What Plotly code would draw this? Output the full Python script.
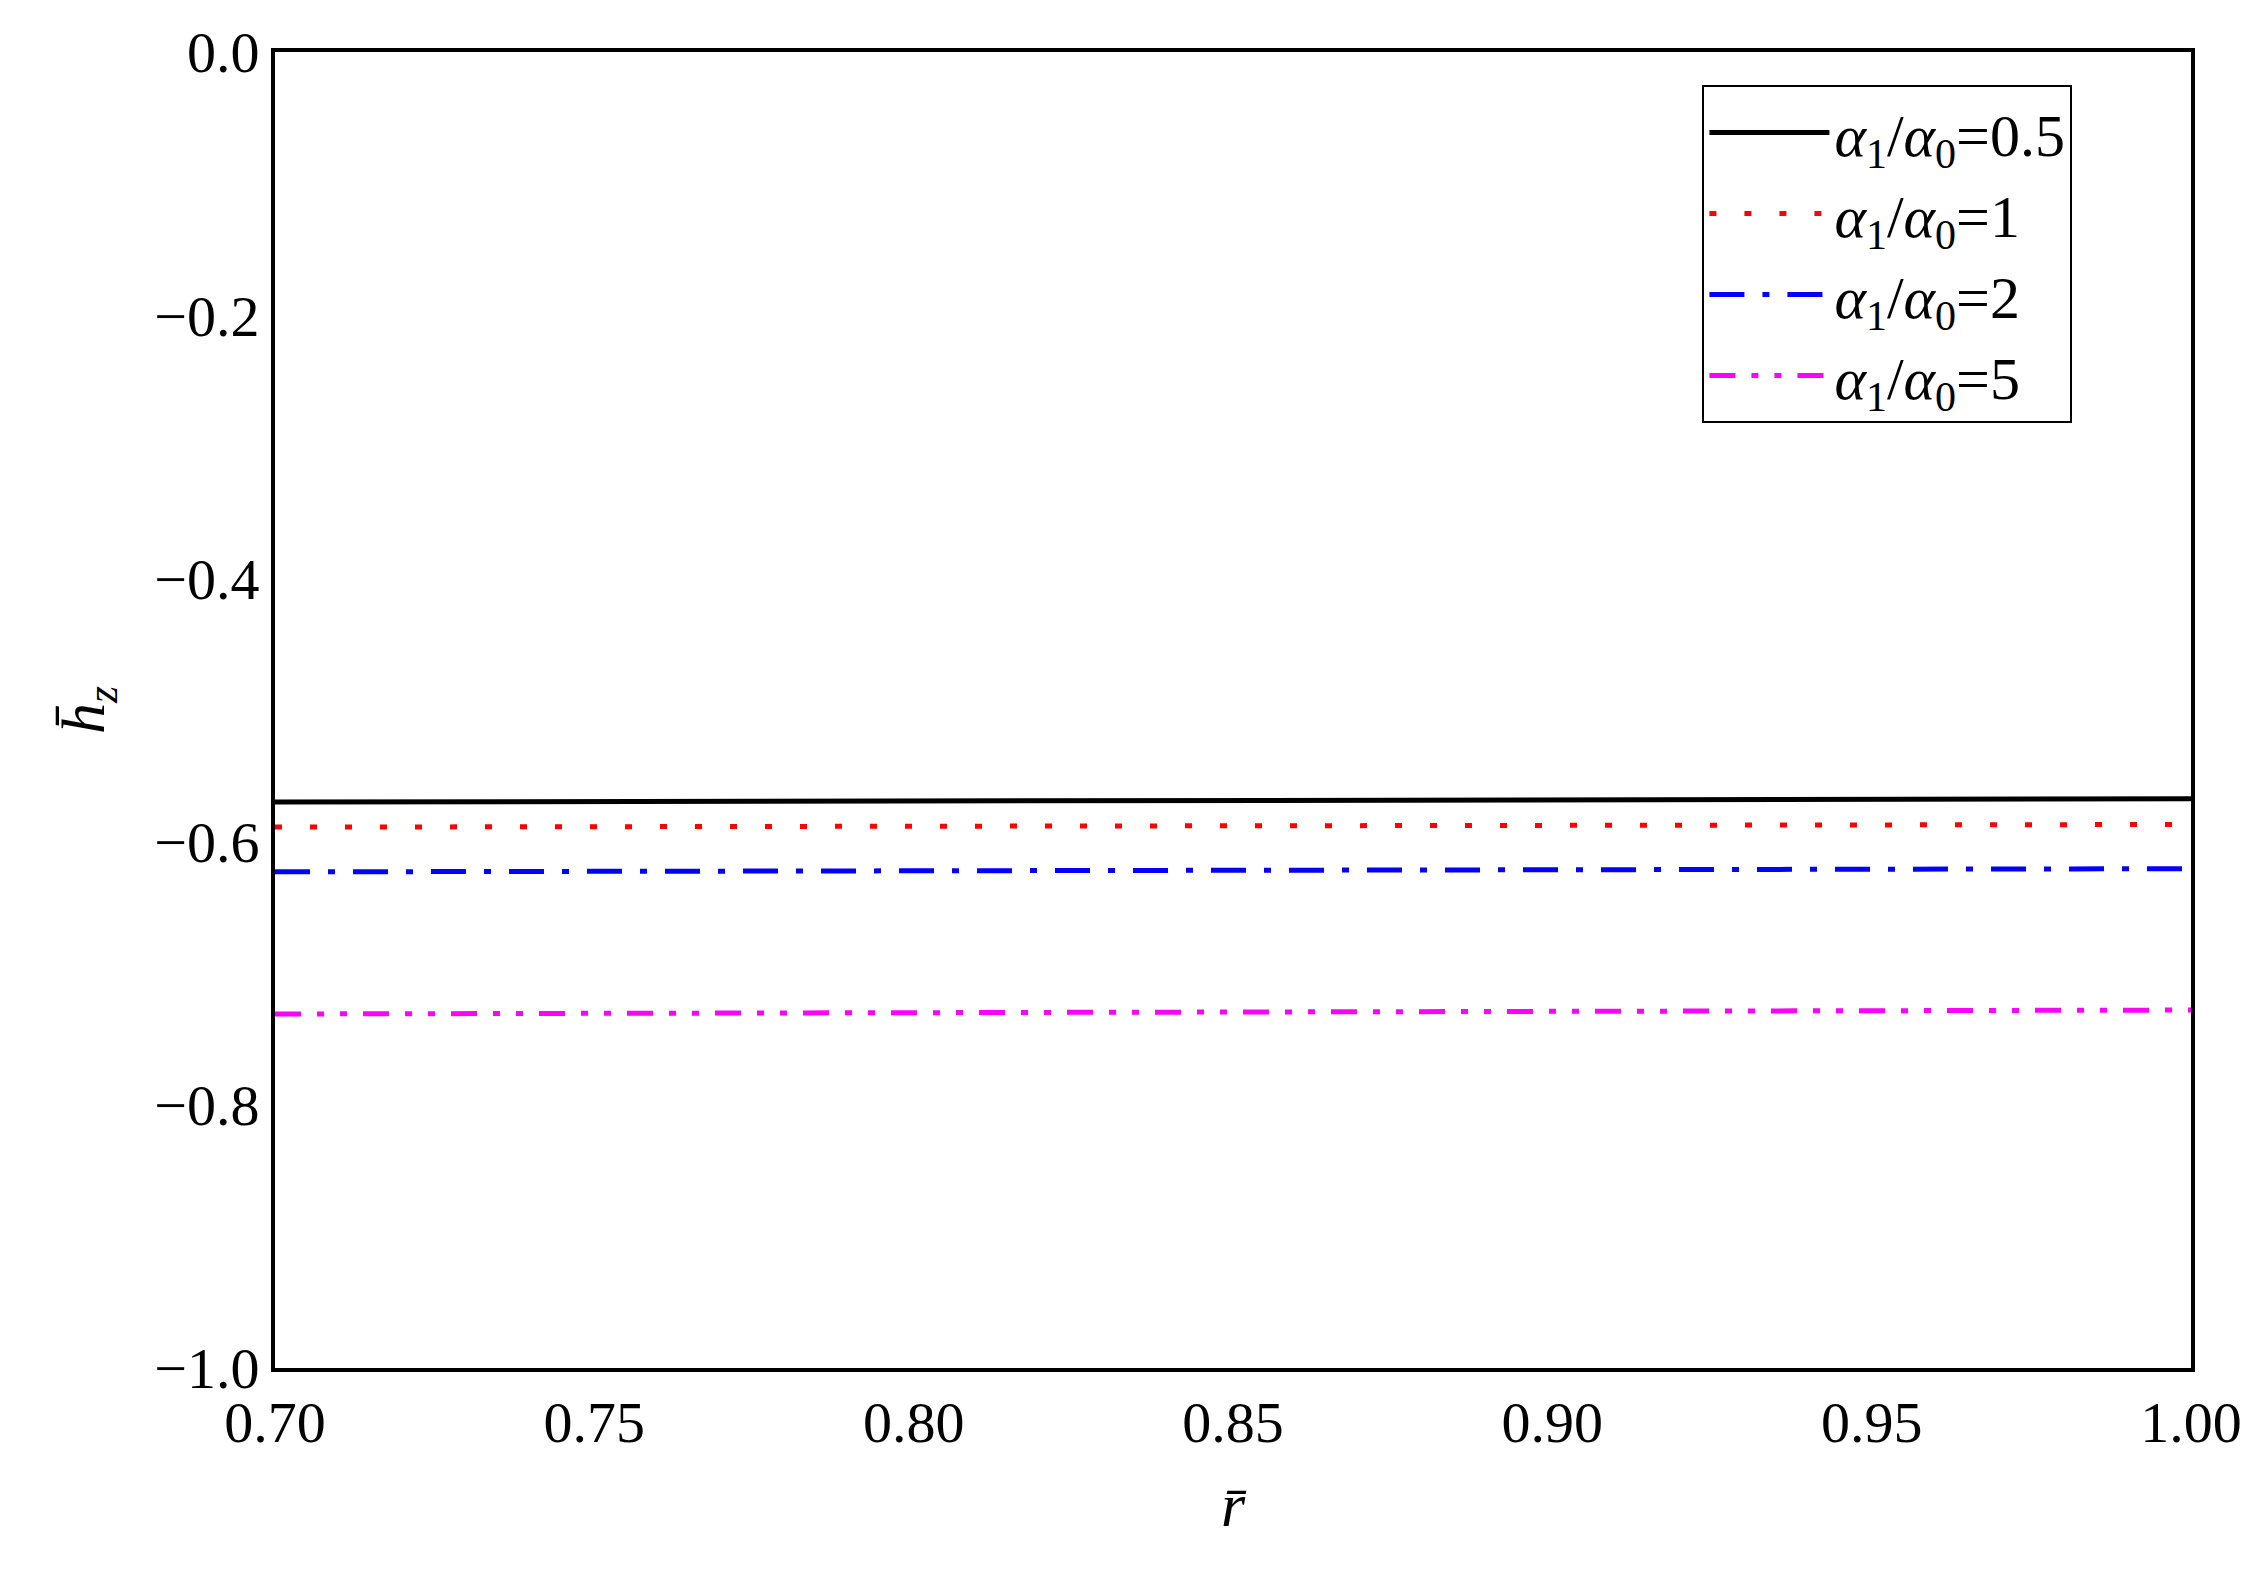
import plotly.graph_objects as go

r_bar = [0.70, 0.75, 0.80, 0.85, 0.90, 0.95, 1.00]
hz_05 = [-0.570, -0.5697, -0.5693, -0.569, -0.5685, -0.568, -0.5675]
hz_1 = [-0.589, -0.5887, -0.5884, -0.588, -0.5877, -0.5874, -0.587]
hz_2 = [-0.623, -0.6226, -0.6222, -0.6218, -0.6214, -0.621, -0.6206]
hz_5 = [-0.731, -0.7305, -0.730, -0.7295, -0.729, -0.7285, -0.728]

a = "<i>α</i><sub>1</sub>/<i>α</i><sub>0</sub>"
series = [
    (hz_05, f"{a}=0.5", "black", "solid"),
    (hz_1, f"{a}=1", "red", "dot"),
    (hz_2, f"{a}=2", "blue", "dashdot"),
    (hz_5, f"{a}=5", "magenta", "longdashdot"),
]
dashes = {"solid": "solid", "dot": "7px,28px", "dashdot": "35px,18px,7px,18px",
          "longdashdot": "26px,16px,7px,16px,7px,16px"}

fig = go.Figure()
for y, name, color, d in series:
    fig.add_trace(go.Scatter(x=r_bar, y=y, name=name, mode="lines",
                             line=dict(color=color, width=5, dash=dashes[d])))

font = dict(family="Liberation Serif, Times New Roman, serif", size=60, color="black")
fig.update_layout(
    width=2250, height=1582, template="simple_white", font=font,
    margin=dict(l=267, r=67, t=42, b=222),
    showlegend=True,
    legend=dict(x=0.745, y=0.975, xanchor="left", yanchor="top",
                bordercolor="black", borderwidth=2, bgcolor="white",
                font=dict(family="Liberation Serif, serif", size=60, color="black"),
                tracegroupgap=18, itemwidth=120),
)
fig.update_xaxes(range=[0.70, 1.00], tickvals=r_bar, tickformat=".2f",
                 tickfont=dict(size=58), ticks="", showline=True, linewidth=4,
                 linecolor="black", mirror=True,
                 title=dict(text="<i>r̄</i>", font=dict(size=62), standoff=30))
fig.update_yaxes(range=[-1.0, 0.0], dtick=0.2, tickformat=".1f",
                 tickfont=dict(size=58), ticks="", showline=True, linewidth=4,
                 linecolor="black", mirror=True,
                 title=dict(text="<i>h̄</i><sub><i>z</i></sub>", font=dict(size=62), standoff=30))
fig.write_html("out.html")
